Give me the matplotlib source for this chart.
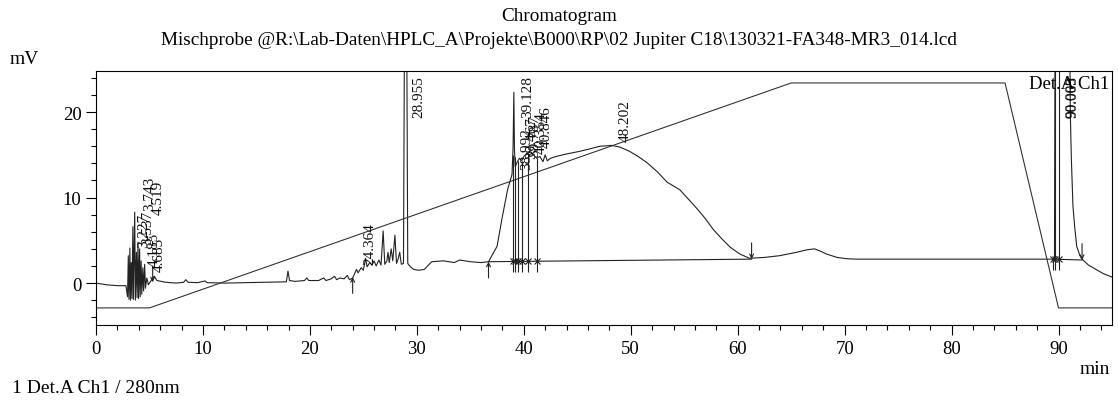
import numpy as np
import matplotlib
matplotlib.use("Agg")
import matplotlib.pyplot as plt
from matplotlib.ticker import MultipleLocator

plt.rcParams['font.family'] = ['Liberation Serif', 'DejaVu Serif']

trace_t = [0.0, 1.0, 2.0, 2.8,
           2.95, 3.02, 3.08, 3.17, 3.22, 3.3, 3.36, 3.45, 3.5, 3.62, 3.68, 3.78, 3.84,
           3.93, 3.98, 4.08, 4.13, 4.22, 4.28, 4.38, 4.45, 4.55, 4.62, 4.75, 4.9,
           5.1, 5.45, 5.7, 6.5, 7.5, 8.2, 8.4, 8.6, 9.5, 10.2, 10.4, 12.0, 14.0, 16.0,
           17.8, 17.95, 18.1, 18.6, 19.5, 19.7, 19.9, 20.8, 21.3, 21.5, 22.0, 22.3,
           22.5, 22.8, 23.2, 23.5, 23.7, 24.0, 24.36, 24.5, 24.8, 25.0, 25.2, 25.35,
           25.6, 25.8, 26.0, 26.2, 26.45, 26.65, 26.85, 27.0, 27.2, 27.3, 27.42, 27.6,
           27.75, 27.95, 28.1, 28.25, 28.4, 28.55, 28.75, 28.88, 29.02, 29.15, 29.4,
           29.7, 30.2, 30.7, 31.0, 31.4, 32.5, 33.5, 34.0, 35.0, 36.0, 36.7, 37.5,
           38.0, 38.5, 38.9, 39.0, 39.07, 39.13, 39.2, 39.4, 39.6, 39.8, 40.0, 40.3,
           40.6, 40.9, 41.2, 41.5, 41.8, 42.0, 42.2, 42.5, 43.0, 44.0, 45.2, 46.2,
           47.1, 48.2, 49.0, 49.9, 50.7, 51.5, 52.5, 53.4, 54.6, 55.4, 56.2, 57.0,
           57.7, 58.5, 59.3, 60.2, 61.1, 62.5, 63.9, 65.5, 66.5, 67.2, 67.8, 68.3,
           69.3, 70.2, 71.1, 80.0, 89.5, 89.62, 89.7, 91.0, 91.1, 91.2, 91.35, 91.5,
           91.7, 92.0, 92.2, 92.8, 93.5, 94.2, 95.0]
trace_mv = [0.0, -0.2, -0.3, -0.3,
            -1.6, 3.2, -1.9, 4.1, -2.0, 2.4, -1.8, 6.6, -1.9, 8.3, -2.0, 3.6, -1.7,
            4.8, -1.8, 4.0, -1.6, 2.6, -1.3, 1.8, -0.9, 2.2, -0.6, 0.6, -0.2,
            0.2, 0.8, 0.3, 0.1, 0.0, 0.1, 0.4, 0.1, 0.05, 0.25, 0.05, 0.0, 0.05, 0.1,
            0.15, 1.4, 0.3, 0.2, 0.3, 0.6, 0.3, 0.3, 0.6, 0.3, 0.5, 0.8,
            0.4, 0.6, 0.5, 0.9, 0.4, 0.6, 1.6, 1.2, 1.8, 1.5, 2.9, 1.9,
            2.4, 2.1, 2.6, 2.0, 2.7, 2.1, 6.1, 2.2, 2.6, 3.6, 2.4, 4.0,
            2.6, 5.6, 2.3, 2.8, 3.6, 2.2, 2.3, 40.0, 40.0, 2.3, 1.9,
            1.6, 1.5, 1.6, 2.0, 2.5, 2.6, 2.4, 2.7, 2.5, 2.4, 2.5, 4.3,
            7.8, 11.0, 12.7, 16.0, 22.3, 15.5, 13.6, 14.2, 14.6, 14.3, 14.8, 15.2,
            14.8, 15.0, 14.6, 14.8, 14.2, 15.0, 14.3, 14.6, 14.8, 15.1, 15.4, 15.7,
            16.0, 16.1, 15.9, 15.4, 14.8, 14.1, 13.0, 11.8, 10.9, 9.8, 8.7, 7.5,
            6.3, 5.2, 4.2, 3.4, 2.9, 3.0, 3.2, 3.6, 3.9, 4.0, 3.7, 3.4,
            3.0, 2.85, 2.8, 2.8, 2.8, 2.8, 40.0, 40.0, 20.0, 14.5, 9.0, 6.7,
            4.3, 3.2, 2.8, 2.1, 1.6, 1.1, 0.7]

# solvent gradient program drawn on the same axes
grad_t = [0, 5, 65, 85, 90, 95]
grad_mv = [-2.9, -2.9, 23.4, 23.4, -2.9, -2.9]

# peak table: retention time, label, apex height (mV)
peak_rt = [3.227, 3.537, 3.743, 4.185, 4.519, 4.685, 24.364, 28.955, 38.992, 39.128,
           39.467, 39.787, 40.354, 40.846, 48.202, 90.009, 90.063]
peak_lbl = ["3.227", "3.537", "3.743", "4.185", "4.519", "4.685", "24.364", "28.955",
            "38.992", "39.128", "39.467", "39.787", "40.354", "40.846", "48.202",
            "90.009", "90.063"]
peak_h = [3.6, 4.0, 8.0, 1.4, 7.5, 0.8, 1.6, 40, 12.7, 22.3, 14.0, 14.3, 14.6, 15.3,
          16.0, 40, 40]

# integration baseline segments and peak boundaries
base_t = [[36.7, 61.3], [89.5, 92.2]]
base_mv = [[2.5, 2.8], [2.8, 2.7]]
bound_t = [38.97, 39.16, 39.45, 39.8, 40.35, 41.2, 89.5, 89.7, 90.0]
bound_mv = [2.55, 2.55, 2.56, 2.56, 2.57, 2.58, 2.8, 2.8, 2.8]
arrow_t = [5.3, 24.0, 36.7, 61.3, 92.2]
arrow_mv = [0.1, 0.7, 2.5, 2.8, 2.7]
arrow_up = [False, True, True, False, False]

fig = plt.figure(figsize=(11.18, 4.02), dpi=100)
ax = fig.add_axes([96 / 1118, 1 - 326 / 402, 1016 / 1118, 254 / 402])

lc = '#222222'
ax.plot(trace_t, trace_mv, color=lc, lw=0.8)
ax.plot(grad_t, grad_mv, color='#333333', lw=0.8)
for bt, bm in zip(base_t, base_mv):
    ax.plot(bt, bm, color=lc, lw=0.8)

tops = np.interp(bound_t, trace_t, trace_mv)
ax.vlines(bound_t, np.array(bound_mv) - 1.3, tops, color=lc, lw=0.8)
ax.plot(bound_t, bound_mv, ls='none', marker='x', ms=5, mew=0.8, color=lc)

for t, m, up in zip(arrow_t, arrow_mv, arrow_up):
    tail = m - 1.9 if up else m + 1.9
    ax.annotate('', xy=(t, m), xytext=(t, tail),
                arrowprops=dict(arrowstyle='->', lw=0.8, color=lc, mutation_scale=7,
                                shrinkA=0, shrinkB=0))

for rt, lbl, h in zip(peak_rt, peak_lbl, peak_h):
    ax.text(rt + 0.65, min(h + 0.6, 19.4), lbl, rotation=90, ha='left', va='bottom',
            fontsize=11, color='#111111')

ax.text(0.997, 0.985, 'Det.A Ch1', transform=ax.transAxes, ha='right', va='top',
        fontsize=13.5)

ax.set_xlim(0, 95)
ax.set_ylim(-4.9, 24.8)
ax.set_xticks([0, 10, 20, 30, 40, 50, 60, 70, 80, 90])
ax.set_yticks([0, 10, 20])
ax.xaxis.set_minor_locator(MultipleLocator(2))
ax.yaxis.set_minor_locator(MultipleLocator(2))
ax.tick_params(which='both', direction='out', top=False, right=False, width=0.8,
               labelsize=13.5)
ax.tick_params(which='major', length=7)
ax.tick_params(which='minor', length=3.6)
for s in ax.spines.values():
    s.set_linewidth(0.8)

fig.text(0.5, 0.96, 'Chromatogram', ha='center', va='center', fontsize=13.8)
fig.text(0.5, 0.90, r'Mischprobe @R:\Lab-Daten\HPLC_A\Projekte\B000\RP\02 Jupiter C18\130321-FA348-MR3_014.lcd',
         ha='center', va='center', fontsize=13.9)
fig.text(10 / 1118, 1 - 60 / 402, 'mV', ha='left', va='center', fontsize=14)
fig.text(1110 / 1118, 1 - 370 / 402, 'min', ha='right', va='center', fontsize=14)
fig.text(12 / 1118, 1 - 389 / 402, '1 Det.A Ch1 / 280nm', ha='left', va='center',
         fontsize=14)

fig.savefig('out.png', dpi=100)
